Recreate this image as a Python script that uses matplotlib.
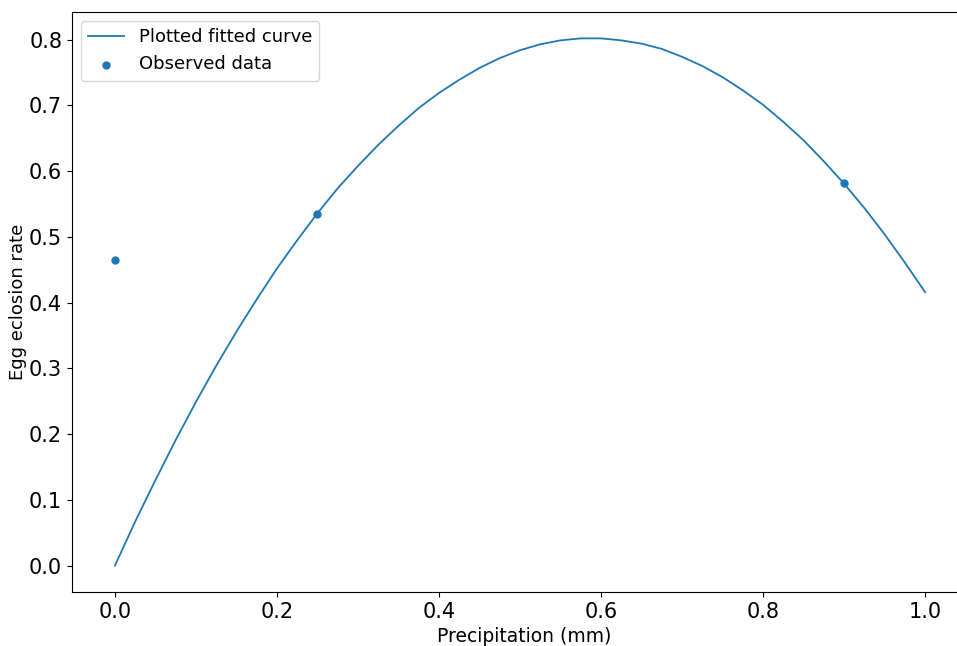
import numpy as np
import matplotlib.pyplot as plt

# fitted curve, sampled every 0.025 mm
curve_x = [0.000, 0.025, 0.050, 0.075, 0.100, 0.125, 0.150, 0.175, 0.200, 0.225,
           0.250, 0.275, 0.300, 0.325, 0.350, 0.375, 0.400, 0.425, 0.450, 0.475,
           0.500, 0.525, 0.550, 0.575, 0.600, 0.625, 0.650, 0.675, 0.700, 0.725,
           0.750, 0.775, 0.800, 0.825, 0.850, 0.875, 0.900, 0.925, 0.950, 0.975,
           1.000]
curve_y = [0.000, 0.067, 0.130, 0.191, 0.249, 0.304, 0.356, 0.405, 0.452, 0.495,
           0.536, 0.574, 0.608, 0.640, 0.669, 0.696, 0.719, 0.739, 0.757, 0.772,
           0.784, 0.793, 0.799, 0.802, 0.802, 0.799, 0.794, 0.786, 0.774, 0.760,
           0.743, 0.723, 0.701, 0.675, 0.647, 0.615, 0.581, 0.544, 0.504, 0.461,
           0.416]

# observed points
obs_x = [0.0, 0.25, 0.9]
obs_y = [0.465, 0.535, 0.582]

plt.rcParams['font.size'] = 15
fig, ax = plt.subplots(figsize=(9.57, 6.46), dpi=100)
ax.plot(curve_x, curve_y, color='#1f77b4', linewidth=1.3, label='Plotted fitted curve')
ax.scatter(obs_x, obs_y, color='#1f77b4', s=25, zorder=3, label='Observed data')
ax.set_xlabel('Precipitation (mm)', fontsize=13.5)
ax.set_ylabel('Egg eclosion rate', fontsize=13, labelpad=1.5)
ax.set_xticks(np.arange(0, 1.01, 0.2))
ax.set_yticks(np.arange(0, 0.81, 0.1))
ax.set_xlim(-0.053, 1.063)
ax.legend(loc='upper left', fontsize=13)
# right spine sits past the canvas edge
fig.subplots_adjust(left=0.0752, right=1.02, top=0.9814, bottom=0.0836)
fig.savefig('out.png')
